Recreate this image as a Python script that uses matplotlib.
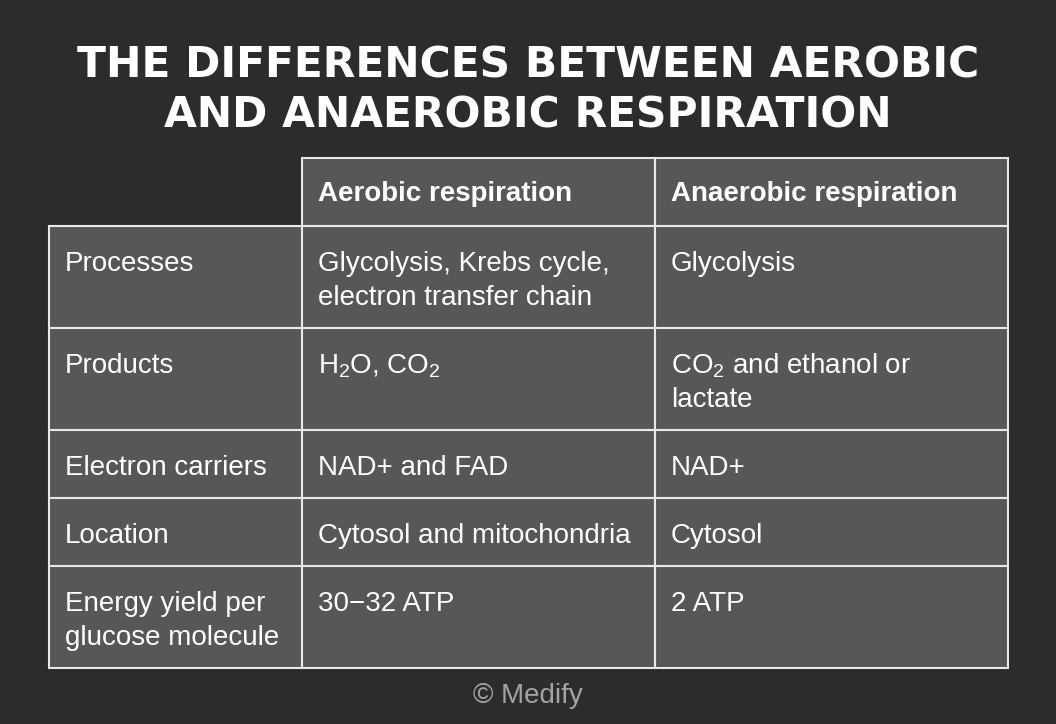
import matplotlib.pyplot as plt
from matplotlib.patches import Rectangle

plt.rcParams["mathtext.fontset"] = "custom"
plt.rcParams["mathtext.rm"] = "Liberation Sans"
plt.rcParams["mathtext.it"] = "Liberation Sans:italic"
plt.rcParams["mathtext.bf"] = "Liberation Sans:bold"

title_lines = ["THE DIFFERENCES BETWEEN AEROBIC", "AND ANAEROBIC RESPIRATION"]
headers = ["Aerobic respiration", "Anaerobic respiration"]
row_labels = [
    ["Processes"],
    ["Products"],
    ["Electron carriers"],
    ["Location"],
    ["Energy yield per", "glucose molecule"],
]
aerobic = [
    ["Glycolysis, Krebs cycle,", "electron transfer chain"],
    ["H$_2$O, CO$_2$"],
    ["NAD+ and FAD"],
    ["Cytosol and mitochondria"],
    ["30\u221232 ATP"],
]
anaerobic = [
    ["Glycolysis"],
    ["CO$_2$ and ethanol or", "lactate"],
    ["NAD+"],
    ["Cytosol"],
    ["2 ATP"],
]
credit = "\u00a9 Medify"

# layout in pixels
col_edges = [49, 302, 655, 1008]
header_top, header_bottom = 158, 226
row_heights = [102, 102, 68, 68, 102]

bg = "#2b2c2e"
cell = "#565756"
edge = "#e8e8e8"

fig = plt.figure(figsize=(10.56, 7.24), dpi=100, facecolor=bg)
ax = fig.add_axes([0, 0, 1, 1])
ax.set_xlim(0, 1056)
ax.set_ylim(724, 0)
ax.axis("off")

for i, line in enumerate(title_lines):
    ax.text(528, 78 + i * 49, line, ha="center", va="baseline", color="white",
            fontsize=30.5, fontweight="heavy", family="DejaVu Sans")

def cell_box(x0, x1, y0, y1):
    ax.add_patch(Rectangle((x0, y0), x1 - x0, y1 - y0, facecolor=cell,
                           edgecolor=edge, lw=1.5))

def cell_text(x0, y0, lines, bold=False, base=45):
    for k, s in enumerate(lines):
        ax.text(x0 + 16, y0 + base + k * 34, s, ha="left", va="baseline",
                color="white", fontsize=20, family="Liberation Sans",
                fontweight="bold" if bold else "normal")

for j, h in enumerate(headers):
    cell_box(col_edges[j + 1], col_edges[j + 2], header_top, header_bottom)
    cell_text(col_edges[j + 1], header_top, [h], bold=True, base=43)

y = header_bottom
for i, hgt in enumerate(row_heights):
    cols = [row_labels[i], aerobic[i], anaerobic[i]]
    for j in range(3):
        cell_box(col_edges[j], col_edges[j + 1], y, y + hgt)
        cell_text(col_edges[j], y, cols[j])
    y += hgt

ax.text(528, 703, credit, ha="center", va="baseline", color="#a3a3a3",
        fontsize=20, family="Liberation Sans")

fig.savefig("out.png", dpi=100, facecolor=bg)
